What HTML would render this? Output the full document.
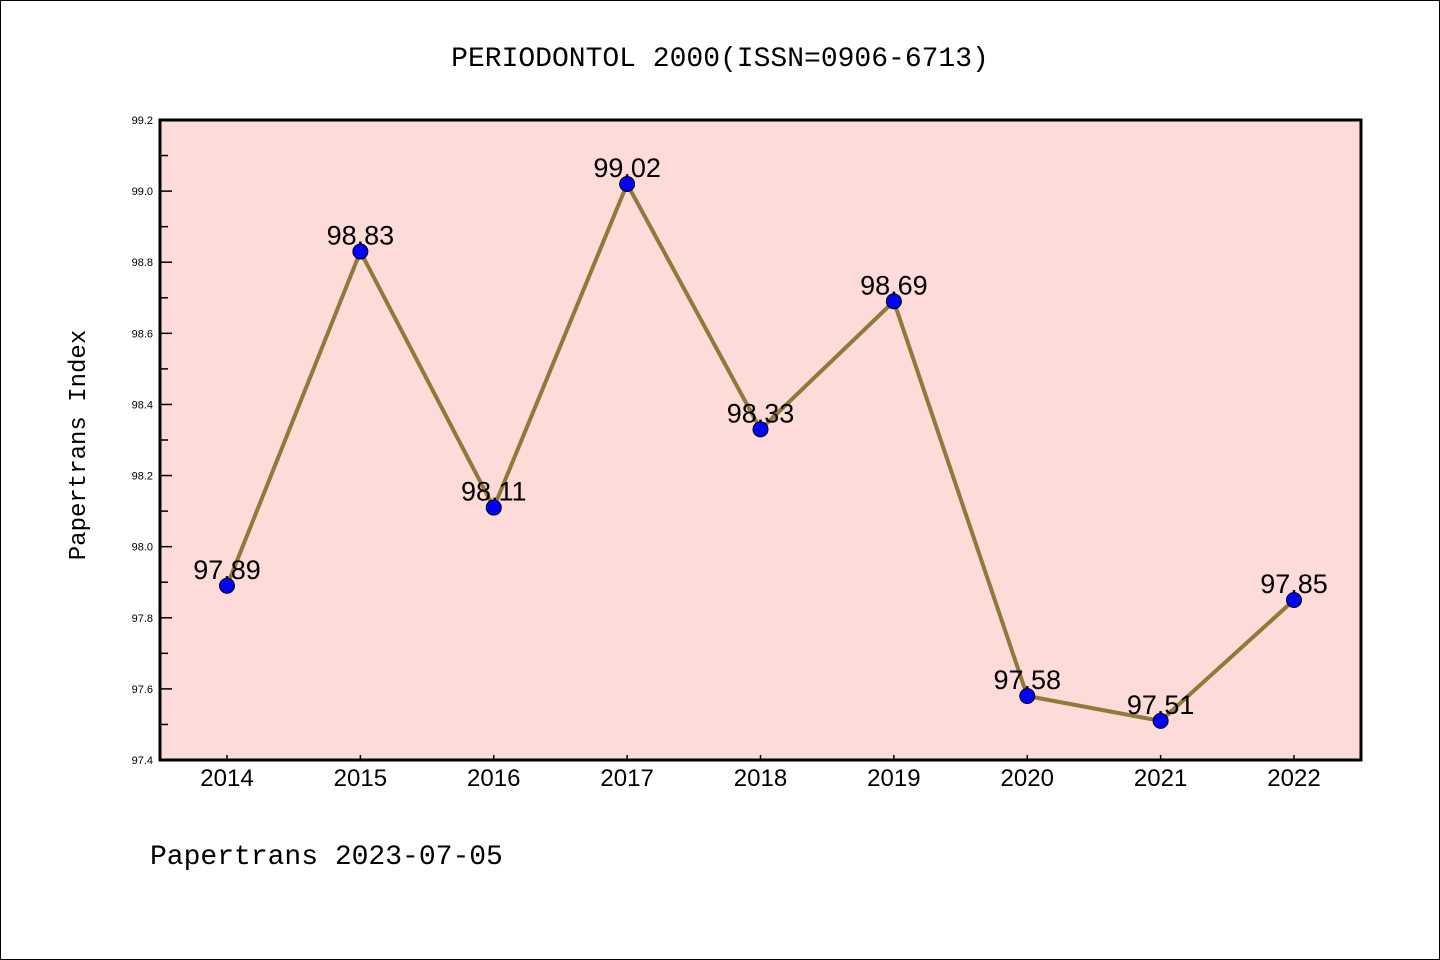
<!DOCTYPE html>
<html><head><meta charset="utf-8"><style>
html,body{margin:0;padding:0;background:#fff}
svg{display:block;font-family:"Liberation Sans","WenQuanYi Zen Hei",sans-serif}
</style></head><body>
<svg width="1440" height="960" viewBox="0 0 1440 960">
<rect x="0.5" y="0.5" width="1439" height="959" fill="#fff" stroke="#000" stroke-width="1"/>
<text x="720" y="66" text-anchor="middle" font-size="28" font-family="'WenQuanYi Zen Hei','Liberation Mono',monospace">PERIODONTOL 2000(ISSN=0906-6713)</text>
<rect x="160" y="120" width="1201" height="640" fill="#fddbd8"/>
<g id="axes"></g>
<g id="series"></g>
<rect x="160" y="120" width="1201" height="640" fill="none" stroke="#000" stroke-width="3"/>
<text x="85" y="445" text-anchor="middle" font-size="24" transform="rotate(-90 85 445)" font-family="'WenQuanYi Zen Hei','Liberation Mono',monospace">Papertrans Index</text>
<text x="150" y="864" font-size="28" font-family="'WenQuanYi Zen Hei','Liberation Mono',monospace">Papertrans 2023-07-05</text>
</svg>
<script>
const years = ["2014","2015","2016","2017","2018","2019","2020","2021","2022"];
const values = [97.89,98.83,98.11,99.02,98.33,98.69,97.58,97.51,97.85];
const labels = ["97.89","98.83","98.11","99.02","98.33","98.69","97.58","97.51","97.85"];
const yTicks = [97.4,97.6,97.8,98.0,98.2,98.4,98.6,98.8,99.0,99.2];
const yMin=97.4,yMax=99.2;
const NS="http://www.w3.org/2000/svg";
function xs(i){return 227+i*(1294-227)/(years.length-1);}
function ys(v){return 760-(v-yMin)/(yMax-yMin)*640;}
function mk(t,a,p){const e=document.createElementNS(NS,t);for(const k in a)e.setAttribute(k,a[k]);p.appendChild(e);return e;}
const ax=document.getElementById('axes'), se=document.getElementById('series');
yTicks.forEach(v=>{
  const y=ys(v);
  const t=mk('text',{x:153,y:y+4,'text-anchor':'end','font-size':11},ax);
  t.textContent=v.toFixed(1);
  
  
  const l=mk('line',{x1:160,x2:172,y1:y,y2:y,stroke:'#000','stroke-width':1.5},ax);
  
  
  if(v<yMax-0.01){const m=ys(v+0.1);
    const ml=mk('line',{x1:160,x2:168,y1:m,y2:m,stroke:'#000','stroke-width':1.5},ax);
    
    }
});
years.forEach((yr,i)=>{
  const x=xs(i);
  const l=mk('line',{x1:x,x2:x,y1:755,y2:760,stroke:'#000','stroke-width':1.5},ax);
  
  
  const t=mk('text',{x:x,y:786,'text-anchor':'middle','font-size':24},ax);
  t.textContent=yr;
  
  
});
const pl=mk('polyline',{points:values.map((v,i)=>xs(i)+','+ys(v)).join(' '),fill:'none',stroke:'#8f7a3a','stroke-width':4,'stroke-linejoin':'round'},se);


values.forEach((v,i)=>{
  const c=mk('circle',{cx:xs(i),cy:ys(v),r:7.5,fill:'#0000ff',stroke:'#000','stroke-width':1},se);
  
  
  const t=mk('text',{x:xs(i),y:ys(v)-7,'text-anchor':'middle','font-size':27},se);
  t.textContent=labels[i];
  
  
});
</script>
</body></html>
